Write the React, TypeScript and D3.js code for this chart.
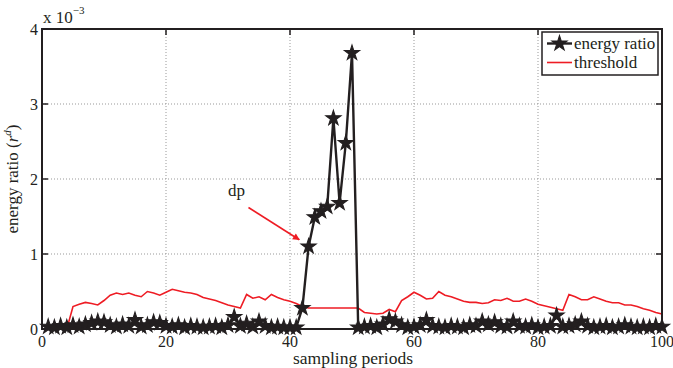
import * as d3 from "d3";
import { useEffect, useRef } from "react";

// samples 1..100, values in units of 1e-3
const samples = d3.range(1, 101);
const energyRatio = [
  0.03, 0.02, 0.04, 0.02, 0.05, 0.03, 0.06, 0.08, 0.1, 0.09,
  0.05, 0.03, 0.06, 0.04, 0.12, 0.03, 0.05, 0.09, 0.08, 0.04,
  0.03, 0.05, 0.02, 0.04, 0.03, 0.02, 0.03, 0.04, 0.02, 0.05,
  0.16, 0.04, 0.07, 0.03, 0.1, 0.04, 0.02, 0.03, 0.02, 0.02,
  0.02, 0.28, 1.1, 1.49, 1.57, 1.63, 2.81, 1.68, 2.48, 3.68,
  0.02, 0.03, 0.04, 0.02, 0.06, 0.13, 0.1, 0.05, 0.02, 0.03,
  0.05, 0.12, 0.04, 0.03, 0.02, 0.04, 0.03, 0.02, 0.05, 0.04,
  0.1, 0.06, 0.09, 0.04, 0.03, 0.1, 0.04, 0.03, 0.05, 0.02,
  0.03, 0.04, 0.18, 0.03, 0.04, 0.06, 0.1, 0.04, 0.02, 0.03,
  0.04, 0.02, 0.03, 0.05, 0.03, 0.02, 0.03, 0.02, 0.04, 0.03,
];
const threshold = [
  0, 0, 0, 0, 0.3, 0.33, 0.355, 0.34, 0.32, 0.38,
  0.45, 0.48, 0.46, 0.48, 0.45, 0.43, 0.5, 0.48, 0.45, 0.49,
  0.53, 0.51, 0.49, 0.48, 0.46, 0.42, 0.4, 0.38, 0.35, 0.32,
  0.3, 0.28, 0.46, 0.41, 0.43, 0.39, 0.46, 0.42, 0.39, 0.37,
  0.34, 0.3, 0.28, 0.28, 0.28, 0.28, 0.28, 0.28, 0.28, 0.28,
  0.28, 0.22, 0.21, 0.2, 0.21, 0.26, 0.23, 0.38, 0.43, 0.49,
  0.45, 0.4, 0.41, 0.5, 0.45, 0.43, 0.4, 0.37, 0.355, 0.355,
  0.34, 0.35, 0.39, 0.38, 0.41, 0.37, 0.37, 0.4, 0.37, 0.33,
  0.31, 0.29, 0.27, 0.25, 0.46, 0.43, 0.39, 0.39, 0.43, 0.4,
  0.37, 0.35, 0.35, 0.32, 0.32, 0.3, 0.27, 0.25, 0.22, 0.2,
];
const xTicks = [0, 20, 40, 60, 80, 100];
const yTicks = [0, 1, 2, 3, 4];
const legendItems = ["energy ratio", "threshold"];
// annotation "dp" arrow, in data units
const arrowFrom = [33.3, 1.62];
const arrowTo = [41.5, 1.19];

const W = 673;
const H = 368;
const FONT = "Liberation Serif";

export default function App() {
  const svgRef = useRef(null);

  useEffect(() => {
    const svg = d3.select(svgRef.current);
    svg.selectAll("*").remove();

    const x = d3.scaleLinear().domain([0, 100]).range([42, 662]);
    const y = d3.scaleLinear().domain([0, 4]).range([329, 29]);

    const defs = svg.append("defs");
    defs.append("marker")
      .attr("id", "arrowhead")
      .attr("viewBox", "0 0 10 10")
      .attr("refX", 9).attr("refY", 5)
      .attr("markerWidth", 8).attr("markerHeight", 7)
      .attr("markerUnits", "userSpaceOnUse")
      .attr("orient", "auto")
      .append("path")
      .attr("d", "M0,0 L10,5 L0,10 z")
      .attr("fill", "#ee1c24");

    // grid
    const grid = svg.append("g")
      .attr("stroke", "#999").attr("stroke-width", 1)
      .attr("stroke-dasharray", "1,2");
    grid.selectAll("line.gx").data(xTicks.slice(1, -1)).join("line")
      .attr("class", "gx")
      .attr("x1", d => x(d)).attr("x2", d => x(d))
      .attr("y1", y(0)).attr("y2", y(4));
    grid.selectAll("line.gy").data(yTicks.slice(1, -1)).join("line")
      .attr("class", "gy")
      .attr("x1", x(0)).attr("x2", x(100))
      .attr("y1", d => y(d)).attr("y2", d => y(d));

    // threshold line
    svg.append("path")
      .datum(samples.map((s, i) => [s, threshold[i]]))
      .attr("fill", "none")
      .attr("stroke", "#ee1c24")
      .attr("stroke-width", 1.6)
      .attr("d", d3.line().x(d => x(d[0])).y(d => y(d[1])));

    // energy ratio line + stars
    const erData = samples.map((s, i) => [s, energyRatio[i]]);
    svg.append("path")
      .datum(erData)
      .attr("fill", "none")
      .attr("stroke", "#231f20")
      .attr("stroke-width", 2.4)
      .attr("stroke-linejoin", "round")
      .attr("d", d3.line().x(d => x(d[0])).y(d => y(d[1])));

    const star = d3.symbol().type(d3.symbolStar).size(70);
    svg.append("g").selectAll("path").data(erData).join("path")
      .attr("transform", d => `translate(${x(d[0])},${y(d[1])})`)
      .attr("d", star())
      .attr("fill", "#231f20")
      .attr("stroke", "#231f20")
      .attr("stroke-width", 1.1);

    // axes box
    svg.append("rect")
      .attr("x", x(0)).attr("y", y(4))
      .attr("width", x(100) - x(0)).attr("height", y(0) - y(4))
      .attr("fill", "none").attr("stroke", "#231f20").attr("stroke-width", 2);

    // inward ticks
    const ticks = svg.append("g").attr("stroke", "#231f20").attr("stroke-width", 1.5);
    xTicks.forEach(t => {
      ticks.append("line").attr("x1", x(t)).attr("x2", x(t)).attr("y1", y(0)).attr("y2", y(0) - 6);
      ticks.append("line").attr("x1", x(t)).attr("x2", x(t)).attr("y1", y(4)).attr("y2", y(4) + 6);
    });
    yTicks.forEach(t => {
      ticks.append("line").attr("x1", x(0)).attr("x2", x(0) + 6).attr("y1", y(t)).attr("y2", y(t));
      ticks.append("line").attr("x1", x(100)).attr("x2", x(100) - 6).attr("y1", y(t)).attr("y2", y(t));
    });

    const text = svg.append("g").attr("font-family", FONT).attr("fill", "#231f20");

    text.selectAll("text.xt").data(xTicks).join("text")
      .attr("class", "xt")
      .attr("x", d => x(d)).attr("y", y(0) + 18)
      .attr("text-anchor", "middle").attr("font-size", 16)
      .text(d => d);
    text.selectAll("text.yt").data(yTicks).join("text")
      .attr("class", "yt")
      .attr("x", x(0) - 4).attr("y", d => y(d) + 6)
      .attr("text-anchor", "end").attr("font-size", 16)
      .text(d => d);

    // x 10^-3
    const exp = text.append("text").attr("x", x(0) + 1).attr("y", y(4) - 6).attr("font-size", 17);
    exp.append("tspan").text("x 10");
    exp.append("tspan").attr("dy", -9).attr("font-size", 11).text("\u22123");

    // axis labels
    text.append("text")
      .attr("x", 353).attr("y", 364)
      .attr("text-anchor", "middle").attr("font-size", 17.5)
      .text("sampling periods");

    const yl = text.append("text")
      .attr("transform", `translate(18,${(y(0) + y(4)) / 2}) rotate(-90)`)
      .attr("text-anchor", "middle").attr("font-size", 17);
    yl.append("tspan").text("energy ratio (");
    yl.append("tspan").attr("font-style", "italic").text("r");
    yl.append("tspan").attr("dy", -7).attr("font-size", 11).attr("font-style", "italic").text("d");
    yl.append("tspan").attr("dy", 7).text(")");

    // annotation
    text.append("text")
      .attr("x", x(arrowFrom[0]) - 12).attr("y", y(arrowFrom[1]) - 12)
      .attr("text-anchor", "middle").attr("font-size", 17)
      .text("dp");
    svg.append("line")
      .attr("x1", x(arrowFrom[0])).attr("y1", y(arrowFrom[1]))
      .attr("x2", x(arrowTo[0])).attr("y2", y(arrowTo[1]))
      .attr("stroke", "#ee1c24").attr("stroke-width", 1.6)
      .attr("marker-end", "url(#arrowhead)");

    // legend
    const lg = svg.append("g").attr("transform", "translate(542,32)");
    lg.append("rect").attr("width", 116).attr("height", 43)
      .attr("fill", "white").attr("stroke", "#231f20").attr("stroke-width", 1.5);
    legendItems.forEach((name, i) => {
      const cy = 11.5 + i * 19;
      const row = lg.append("g").attr("transform", `translate(0,${cy})`);
      if (i === 0) {
        row.append("line").attr("x1", 5).attr("x2", 30).attr("stroke", "#231f20").attr("stroke-width", 2.4);
        row.append("path").attr("transform", "translate(17.5,0)").attr("d", star())
          .attr("fill", "#231f20").attr("stroke", "#231f20").attr("stroke-width", 1.1);
      } else {
        row.append("line").attr("x1", 5).attr("x2", 30).attr("stroke", "#ee1c24").attr("stroke-width", 1.6);
      }
      row.append("text").attr("x", 32).attr("y", 5).attr("font-family", FONT)
        .attr("font-size", 17).attr("fill", "#231f20").text(name);
    });
  }, []);

  return (
    <svg ref={svgRef} width={W} height={H}
      style={{ position: "absolute", left: 0, top: 0, background: "white" }} />
  );
}
